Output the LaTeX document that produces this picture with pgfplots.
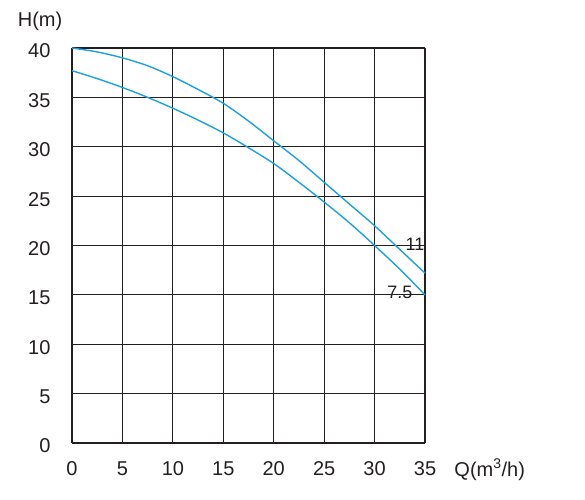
\documentclass[border=0pt]{standalone}
\usepackage{pgfplots}
\pgfplotsset{compat=1.18}
\usepackage{fontspec}
\setmainfont{Liberation Sans}
\definecolor{curve}{HTML}{1BA1E2}
\definecolor{gridc}{HTML}{231F20}
\begin{document}
\begin{tikzpicture}
\begin{axis}[
  scale only axis,
  width=353pt, height=395pt,
  xmin=0, xmax=35, ymin=0, ymax=40,
  xtick={0,5,...,35}, ytick={0,5,...,40},
  grid=major,
  major grid style={gridc, line width=1.2pt},
  axis lines=left,
  axis line style={-, gridc, line width=1.9pt},
  major tick length=0pt,
  /pgf/number format/assume math mode=true,
  tick label style={font=\fontsize{20}{23}\selectfont, text=gridc},
  xticklabel style={yshift=-15pt},
  yticklabel style={xshift=-18pt, yshift=-3pt},
  clip=false,
]
\addplot[curve, line width=1.4pt, smooth] coordinates {
(0,40.0) (2.5,39.6) (5,39.0) (7.5,38.2) (10,37.1) (12.5,35.8) (15,34.4)
(17.5,32.6) (20,30.6) (22.5,28.6) (25,26.4) (27.5,24.2) (30,22.0) (32.5,19.6) (35,17.2)};
\addplot[curve, line width=1.4pt, smooth] coordinates {
(0,37.7) (2.5,36.9) (5,36.0) (7.5,35.0) (10,33.9) (12.5,32.7) (15,31.4)
(17.5,29.9) (20,28.3) (22.5,26.4) (25,24.4) (27.5,22.3) (30,20.0) (32.5,17.6) (35,15.0)};
\node[font=\fontsize{18}{21}\selectfont, text=gridc, inner sep=0pt] at (axis cs:34.0,20.1) {11};
\node[font=\fontsize{18}{21}\selectfont, text=gridc, inner sep=0pt] at (axis cs:32.5,15.3) {7.5};
\node[font=\fontsize{20}{23}\selectfont, text=gridc, anchor=center, inner sep=0pt] at (axis cs:-3.17,42.66) {H(m)};
\node[font=\fontsize{20}{23}\selectfont, text=gridc, anchor=west, inner sep=0pt] at (axis cs:37.9,-2.7) {Q(m\textsuperscript{3}/h)};
\coordinate (bl) at (axis cs:-7.14,-5.77);
\coordinate (tr) at (axis cs:50.86,44.86);
\end{axis}
\path (bl) rectangle (tr);
\end{tikzpicture}
\end{document}
